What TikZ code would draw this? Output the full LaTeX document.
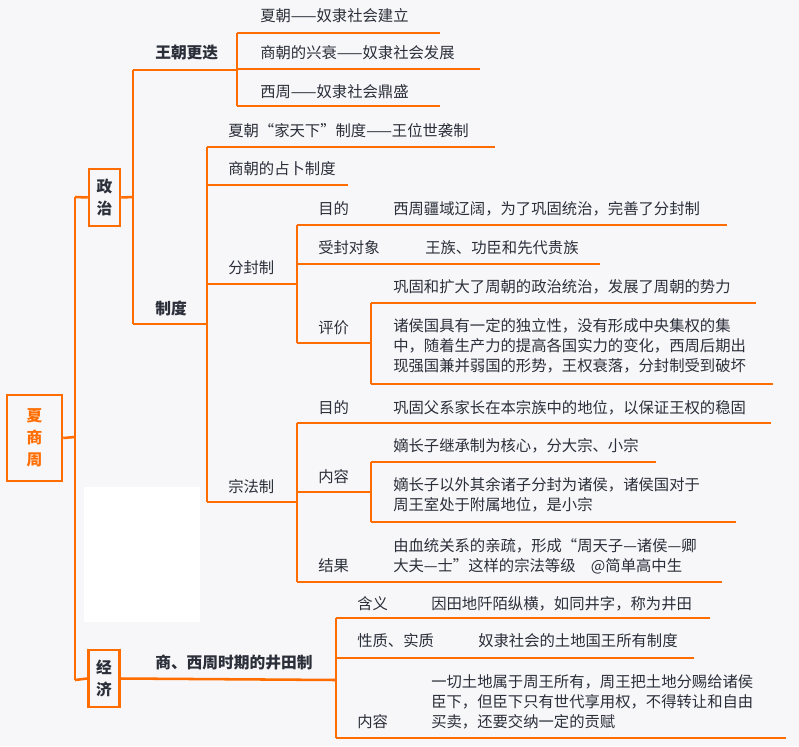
\documentclass[tikz,border=0pt]{standalone}
\usepackage{fontspec}
\setmainfont{Noto Sans CJK SC}
\definecolor{org}{HTML}{FF6D00}
\definecolor{txtc}{HTML}{2B2F3A}
\definecolor{bgc}{HTML}{F7F7F9}
\begin{document}
\begin{tikzpicture}[x=0.75pt,y=-0.75pt,
  ln/.style={draw=org,line width=1.9pt,line cap=butt,line join=miter},
  t/.style={anchor=west,inner sep=0pt,text=txtc,font=\fontsize{11.5}{15}\selectfont},
  tb/.style={t,font=\fontsize{11.8}{15}\selectfont\bfseries},
  ml/.style={anchor=north west,inner sep=0pt,text=txtc,align=left,font=\fontsize{11.5}{15}\selectfont},
  bx/.style={draw=org,line width=1.9pt,inner sep=0pt,align=center,font=\fontsize{11.8}{16.5}\selectfont\bfseries}]
\fill[bgc] (0,0) rectangle (799,746);
\useasboundingbox (0,0) rectangle (799,746);
\fill[white] (84,487) rectangle (200,622);
% boxes
\node[bx,text=org,minimum width=41.25pt,minimum height=64.5pt] (root) at (34.5,438) {夏\\商\\周};
\node[bx,text=txtc,minimum width=23.25pt,minimum height=42.75pt] (zz) at (104.5,197.5) {政\\治};
\node[bx,text=txtc,minimum width=23.25pt,minimum height=42.75pt] (jj) at (104,678.5) {经\\济};
% root trunk
\coordinate (r1) at (75,197); \coordinate (r2) at (75,680);
\draw[ln] (root.east) -- (75,437);
\draw[ln] (r1) -- (r2);
\draw[ln] (r1) -- (zz.west);
\draw[ln] (r2) -- (jj.west);
% 政治 branch
\draw[ln] (zz.east) -- (133,197);
\draw[ln] (133,70) -- (133,324);
\node[tb] (wc) at (155,53) {王朝更迭};
\draw[ln] (133,70) -- (237,70);
\draw[ln] (237,33) -- (237,106);
\node[t] (a1) at (260,16) {夏朝——奴隶社会建立};
\node[t] (a2) at (260,53) {商朝的兴衰——奴隶社会发展};
\node[t] (a3) at (260,92) {西周——奴隶社会鼎盛};
\draw[ln] (237,33) -- (440,33);
\draw[ln] (237,69) -- (480,69);
\draw[ln] (237,106) -- (440,106);
\node[tb] (zd) at (155,308) {制度};
\draw[ln] (133,324) -- (207,324);
\draw[ln] (207,147) -- (207,502);
\node[t] (b1) at (228,131) {夏朝“家天下”制度——王位世袭制};
\draw[ln] (207,147) -- (495,147);
\node[t] (b2) at (228,169) {商朝的占卜制度};
\draw[ln] (207,185) -- (348,185);
% 分封制
\node[t] (ff) at (228,268) {分封制};
\draw[ln] (207,284) -- (297,284);
\draw[ln] (297,225) -- (297,343);
\node[t] (f1) at (318,209) {目的};
\node[t] at (393,209) {西周疆域辽阔，为了巩固统治，完善了分封制};
\draw[ln] (297,225) -- (727,225);
\node[t] (f2) at (318,248) {受封对象};
\node[t] at (425,248) {王族、功臣和先代贵族};
\draw[ln] (297,264) -- (600,264);
\node[t] (f3) at (318,328) {评价};
\draw[ln] (297,343) -- (371,343);
\draw[ln] (371,303) -- (371,384);
\node[t] (p1) at (393,287) {巩固和扩大了周朝的政治统治，发展了周朝的势力};
\draw[ln] (371,303) -- (756,303);
\node[ml] (p2) at (393,318) {诸侯国具有一定的独立性，没有形成中央集权的集\\中，随着生产力的提高各国实力的变化，西周后期出\\现强国兼并弱国的形势，王权衰落，分封制受到破坏};
\draw[ln] (371,384) -- (773,384);
% 宗法制
\node[t] (zf) at (228,487) {宗法制};
\draw[ln] (207,502) -- (297,502);
\draw[ln] (297,423) -- (297,582);
\node[t] (z1) at (318,408) {目的};
\node[t] at (393,408) {巩固父系家长在本宗族中的地位，以保证王权的稳固};
\draw[ln] (297,423) -- (771,423);
\node[t] (z2) at (318,477) {内容};
\draw[ln] (297,492) -- (371,492);
\draw[ln] (371,462) -- (371,522);
\node[t] (n1) at (393,446) {嫡长子继承制为核心，分大宗、小宗};
\draw[ln] (371,462) -- (656,462);
\node[ml] (n2) at (393,477) {嫡长子以外其余诸子分封为诸侯，诸侯国对于\\周王室处于附属地位，是小宗};
\draw[ln] (371,522) -- (736,522);
\node[t] (z3) at (318,566) {结果};
\node[ml] (z3c) at (393,538) {由血统关系的亲疏，形成“周天子—诸侯—卿\\大夫—士”这样的宗法等级\quad @简单高中生};
\draw[ln] (297,582) -- (722,582);
% 经济
\draw[ln] (jj.east) -- (336,680);
\node[tb] (jt) at (155,663) {商、西周时期的井田制};
\draw[ln] (336,618) -- (336,738);
\node[t] (j1) at (357,604) {含义};
\node[t] at (431,604) {因田地阡陌纵横，如同井字，称为井田};
\draw[ln] (336,618) -- (710,618);
\node[t] (j2) at (357,641) {性质、实质};
\node[t] at (478,641) {奴隶社会的土地国王所有制度};
\draw[ln] (336,658) -- (694,658);
\node[t] (j3) at (357,722) {内容};
\node[ml] (j3c) at (431,674) {一切土地属于周王所有，周王把土地分赐给诸侯\\臣下，但臣下只有世代享用权，不得转让和自由\\买卖，还要交纳一定的贡赋};
\draw[ln] (336,738) -- (786,738);
\end{tikzpicture}
\end{document}
